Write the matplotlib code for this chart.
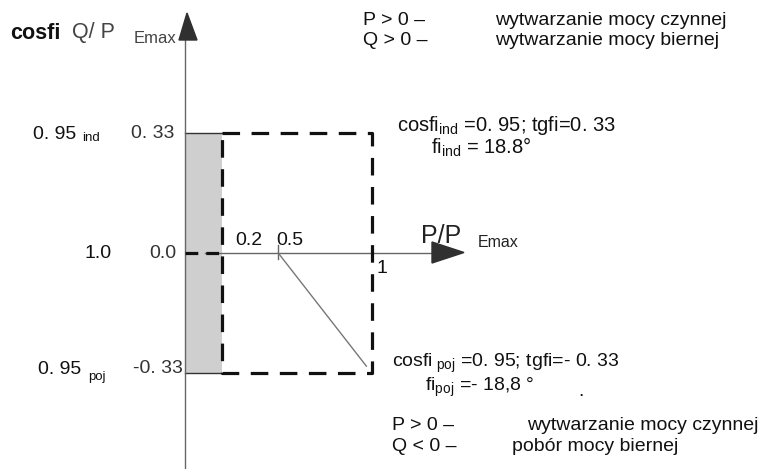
import matplotlib
matplotlib.use("Agg")
import matplotlib.pyplot as plt
from matplotlib.patches import Rectangle, Polygon

plt.rcParams['font.family'] = ['Liberation Sans', 'DejaVu Sans']
plt.rcParams['mathtext.fontset'] = 'custom'
plt.rcParams['mathtext.rm'] = 'Liberation Sans'
plt.rcParams['mathtext.it'] = 'Liberation Sans'

# ---- data (per-unit P/PEmax and Q/PEmax) ----
p_min_limit = 0.2          # lower active power limit
p_max_limit = 1.0          # upper active power limit
q_ind = 0.33               # tg(fi) inductive
q_poj = -0.33              # tg(fi) capacitive
p_tick = 0.5
diag_start = (0.5, 0.0)
diag_end = (0.97, -0.31)
x_tick_labels = ["0.2", "0.5"]
q_tick_labels = ["0. 33", "0.0", "-0. 33"]
cos_labels = ["0. 95", "1.0", "0. 95"]

W, H = 768, 469
fig = plt.figure(figsize=(W / 100, H / 100), dpi=100)
ax = fig.add_axes([0, 0, 1, 1])
ax.axis('off')

# pixel mapping: x_px = X0 + SX*P ; y_px(top) = Y0 - SY*Q
X0, SX = 184.5, 187.5
Y0, SY = 253.0, 365.0
ax.set_xlim(-X0 / SX, (W - X0) / SX)
ax.set_ylim(-(H - Y0) / SY, Y0 / SY)


def px(x, y):
    return ((x - X0) / SX, (Y0 - y) / SY)


axis_c = '#666666'
# vertical axis
ax.plot([0, 0], [px(0, 469)[1], px(0, 38)[1]], color=axis_c, lw=1.0, zorder=3)
ax.add_patch(Polygon([px(179, 40), px(197, 40), px(187, 13)], closed=True,
                     color='#303030', zorder=4))
# horizontal axis
ax.plot([px(205, 0)[0], px(435, 0)[0]], [0, 0], color=axis_c, lw=1.0, zorder=3)
ax.add_patch(Polygon([px(432, 242), px(432, 263), px(464, 252.5)], closed=True,
                     color='#303030', zorder=4))

# shaded band
ax.add_patch(Rectangle((0, q_poj), p_min_limit, q_ind - q_poj,
                       facecolor='#cfcfcf', edgecolor='none', zorder=1))
ax.plot([0, p_min_limit], [q_ind, q_ind], color='#333333', lw=1.0, zorder=2)
ax.plot([0, p_min_limit], [q_poj, q_poj], color='#333333', lw=1.0, zorder=2)

# dashed operating rectangle
dash = (0, (5.5, 3.6))
ax.plot([p_min_limit, p_max_limit, p_max_limit, p_min_limit, p_min_limit],
        [q_ind, q_ind, q_poj, q_poj, q_ind],
        color='#111111', lw=2.3, linestyle=dash, zorder=3)
ax.plot([0, p_min_limit], [0, 0], color='#111111', lw=2.3, linestyle=(0, (4, 2.5)), zorder=3)

# tick at 0.5 and diagonal
ax.plot([p_tick, p_tick], [px(0, 245)[1], px(0, 259)[1]], color=axis_c, lw=1.0, zorder=3)
ax.plot([diag_start[0], diag_end[0]], [diag_start[1], diag_end[1]],
        color='#777777', lw=1.0, zorder=3)


def t(x, y, s, size=14, ha='left', color='#111111', weight='normal'):
    xx, yy = px(x, y)
    ax.text(xx, yy, s, fontsize=size, ha=ha, va='center', color=color,
            weight=weight, zorder=5)


# axis titles
t(10, 33, "cosfi", size=15.5, weight='bold')
t(72, 32, "Q/ P", size=15.5, color='#444444')
t(134, 38, "Emax", size=12, color='#444444')
t(421, 236, "P/P", size=18, color='#222222')
t(478, 242, "Emax", size=11.5, color='#222222')

# left labels
t(33, 134, cos_labels[0], size=14)
t(82, 138, "ind", size=9.5)
t(174, 133, q_tick_labels[0], size=14, ha='right', color='#333333')
t(84, 253, cos_labels[1], size=14)
t(176, 253, q_tick_labels[1], size=14, ha='right', color='#333333')
t(38, 369, cos_labels[2], size=14)
t(88, 377, "poj", size=9.5)
t(183, 368, q_tick_labels[2], size=14, ha='right', color='#333333')

# P ticks
t(235, 240, x_tick_labels[0], size=14)
t(276, 240, x_tick_labels[1], size=14)
t(376, 268, "1", size=14)

# top legend
t(363, 20, "P > 0 –", size=14)
t(495, 20, "wytwarzanie mocy czynnej", size=14)
t(363, 40, "Q > 0 –", size=14)
t(495, 40, "wytwarzanie mocy biernej", size=14)

# right annotations
t(397, 125, r"cosfi$_{\mathrm{ind}}$ =0. 95; tgfi=0. 33", size=14.5)
t(431, 147, r"fi$_{\mathrm{ind}}$ = 18.8°", size=14.5)
t(392, 363, r"cosfi$_{\mathrm{\ poj}}$ =0. 95; tgfi=- 0. 33", size=14)
t(425, 387, r"fi$_{\mathrm{poj}}$ =- 18,8 °", size=14)
t(578, 391, ".", size=14)

# bottom legend
t(392, 425, "P > 0 –", size=14)
t(527, 425, "wytwarzanie mocy czynnej", size=14)
t(392, 446, "Q < 0 –", size=14)
t(512, 446, "pobór mocy biernej", size=14)

fig.savefig("out.png", dpi=100)
